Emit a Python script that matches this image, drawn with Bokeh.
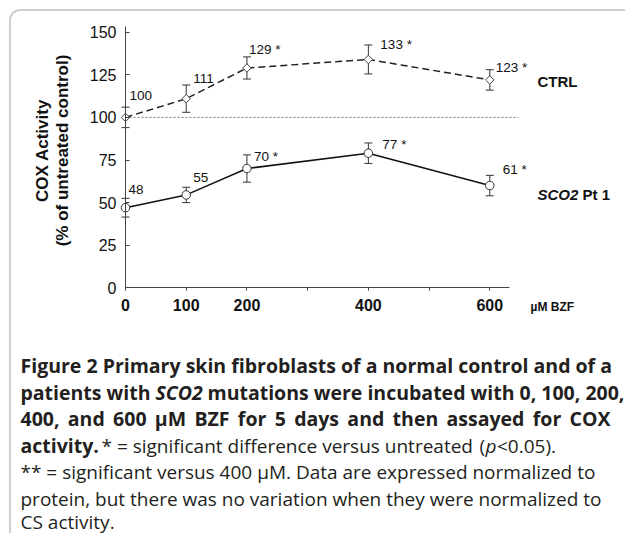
import numpy as np
from bokeh.plotting import figure
from bokeh.models import (Range1d, LinearAxis, FixedTicker, Whisker, TeeHead,
                          ColumnDataSource, Label, BoxAnnotation)
from bokeh.core.properties import value
from bokeh.embed import file_html
from bokeh.resources import INLINE

# ---------------- data ----------------
doses = [0, 100, 200, 400, 600]
ctrl_mean = [100, 111, 129, 134, 122]
ctrl_err = [6, 8, 6.5, 8.5, 6]
ctrl_labels = ["100", "111", "129 *", "133 *", "123 *"]
sco2_mean = [47, 54.5, 70, 79, 60]
sco2_err = [5.5, 4.5, 8, 6, 6]
sco2_labels = ["48", "55", "70 *", "77 *", "61 *"]
x_ticks = [0, 100, 200, 300, 400, 500, 600]
x_tick_overrides = {300: "", 500: ""}
y_ticks = [0, 25, 50, 75, 100, 125, 150]
reference_level = 100

# label offsets (screen px) for the value annotations
ctrl_dx = [4, 7, 2, 12, 6]
ctrl_dy = [-22, -20, -18, -15, -12]
sco2_dx = [3, 7, 7, 14, 13]
sco2_dy = [-18, -17, -12, -9, -16]

# ---------------- geometry ----------------
W, H, PAGE = 625, 533, 0
X0 = 125.0                      # window px of dose 0
SX = (489.3 - 125.0) / 600.0    # px per dose unit
Y0 = 287.3                      # window px of activity 0
SY = (287.3 - 31.7) / 150.0     # px per activity unit


def dx(px):
    return (px - X0) / SX


def dy(py):
    return (Y0 - py) / SY


p = figure(width=W, height=H, output_backend="svg", toolbar_location=None,
           x_range=Range1d(dx(PAGE), dx(PAGE + W)),
           y_range=Range1d(dy(PAGE + H), dy(PAGE)),
           x_axis_location=None, y_axis_location=None, min_border=0)
p.grid.visible = False
p.outline_line_color = None
p.background_fill_color = "white"
p.border_fill_color = "white"

FONT = "Liberation Sans"
AX = "#444444"

# axes fixed at the origin
yaxis = LinearAxis(fixed_location=0, bounds=(0, dy(26)), ticker=FixedTicker(ticks=y_ticks))
yaxis.axis_line_color = AX
yaxis.major_tick_line_color = AX
yaxis.major_tick_in = 4
yaxis.major_tick_out = 0
yaxis.minor_tick_line_color = None
yaxis.major_label_standoff = 9
yaxis.major_label_text_font = FONT
yaxis.major_label_text_font_size = "16px"
yaxis.major_label_text_color = "#111111"
p.add_layout(yaxis, "left")

xaxis = LinearAxis(fixed_location=0, bounds=(0, dx(509)), ticker=FixedTicker(ticks=x_ticks))
xaxis.major_label_overrides = x_tick_overrides
xaxis.axis_line_color = AX
xaxis.major_tick_line_color = AX
xaxis.major_tick_in = 0
xaxis.major_tick_out = 3
xaxis.minor_tick_line_color = None
xaxis.major_label_standoff = 8
xaxis.major_label_text_font = FONT
xaxis.major_label_text_font_size = "16px"
xaxis.major_label_text_font_style = "bold"
xaxis.major_label_text_color = "#111111"
p.add_layout(xaxis, "below")

# reference line at 100 %
p.line([0, dx(518)], [reference_level, reference_level], line_dash="2 2",
       line_color="#777777", line_width=1)

# series lines
p.line(doses, ctrl_mean, line_dash="7 4", line_color="#222222", line_width=1.5)
p.line(doses, sco2_mean, line_color="#111111", line_width=1.5)

# error bars
for mean, err in ((ctrl_mean, ctrl_err), (sco2_mean, sco2_err)):
    src = ColumnDataSource(dict(x=doses,
                                upper=[m + e for m, e in zip(mean, err)],
                                lower=[m - e for m, e in zip(mean, err)]))
    w = Whisker(source=src, base="x", upper="upper", lower="lower", dimension="height",
                line_color="#333333", line_width=1,
                upper_head=TeeHead(size=8, line_color="#333333", line_width=1),
                lower_head=TeeHead(size=8, line_color="#333333", line_width=1))
    p.add_layout(w)

# markers
p.scatter(doses, ctrl_mean, marker="square", angle=np.pi / 4, size=6,
          fill_color="white", line_color="#444444", line_width=1)
p.scatter(doses, sco2_mean, marker="circle", size=8.5,
          fill_color="white", line_color="#333333", line_width=1)

# value labels
p.text(x=doses, y=ctrl_mean, text=ctrl_labels, x_offset=ctrl_dx, y_offset=ctrl_dy,
       text_font=value(FONT), text_font_size="13.5px", text_align="left",
       text_baseline="middle", text_color="#111111")
p.text(x=doses, y=sco2_mean, text=sco2_labels, x_offset=sco2_dx, y_offset=sco2_dy,
       text_font=value(FONT), text_font_size="13.5px", text_align="left",
       text_baseline="middle", text_color="#111111")


def lab(px, py, text, size, style="normal", font=FONT, color="#111111",
        align="left", angle=0.0):
    p.add_layout(Label(x=dx(px), y=dy(py), text=text, text_font=font,
                       text_font_size=size, text_font_style=style,
                       text_color=color, text_align=align,
                       text_baseline="middle", angle=angle))


# series names and unit
lab(537, 81, "CTRL", "15px", "bold")
lab(537, 194, "SCO2", "15px", "bold italic")
lab(582, 194, "Pt 1", "15px", "bold")
lab(530, 306, "\u00b5M BZF", "12px", "bold")

# y axis title
lab(42, 150, "COX Activity", "17px", "bold", align="center", angle=np.pi / 2)
lab(62, 150, "(% of untreated control)", "17px", "bold", align="center", angle=np.pi / 2)

# caption
CF = "Open Sans"
CC = "#231f20"
CB = "19.5px"   # bold caption size
CR = "19px"     # regular caption size
L = 20
GAP = "\u00a0\u2006"   # widened (justified) word gap
ys = [365, 391.7, 418.3, 445, 471.7, 498.3, 521]
lab(L, ys[0], "Figure 2 Primary skin fibroblasts of a normal control and of a", CB, "bold", CF, CC)
lab(L, ys[1], "patients with", CB, "bold", CF, CC)
lab(155, ys[1], "SCO2", CB, "bold italic", CF, CC)
lab(207, ys[1], "mutations were incubated with 0, 100, 200,", CB, "bold", CF, CC)
words3 = ["400,", "and", "600", "\u00b5M", "BZF", "for", "5", "days", "and", "then",
          "assayed", "for", "COX"]
lab(L, ys[2], GAP.join(words3), CB, "bold", CF, CC)
lab(L, ys[3], "activity.", CB, "bold", CF, CC)
lab(101, ys[3], "* = significant difference versus untreated", CR, "normal", CF, CC)
lab(479, ys[3], "(", CR, "normal", CF, CC)
lab(485, ys[3], "p", CR, "italic", CF, CC)
lab(496.5, ys[3], "<0.05).", CR, "normal", CF, CC)
lab(L, ys[4], "** = significant versus 400 \u00b5M. Data are expressed normalized to", CR, "normal", CF, CC)
lab(L, ys[5], "protein, but there was no variation when they were normalized to", CR, "normal", CF, CC)
lab(L, ys[6], "CS activity.", CR, "normal", CF, CC)

# rounded frame of the figure panel
box = BoxAnnotation(left=dx(9.5), right=dx(1200), top=dy(9.5), bottom=dy(1200),
                    fill_color=None, line_color="#333333", line_width=1.5,
                    border_radius=10)
p.add_layout(box)

open("out.html", "w").write(file_html(p, INLINE))
